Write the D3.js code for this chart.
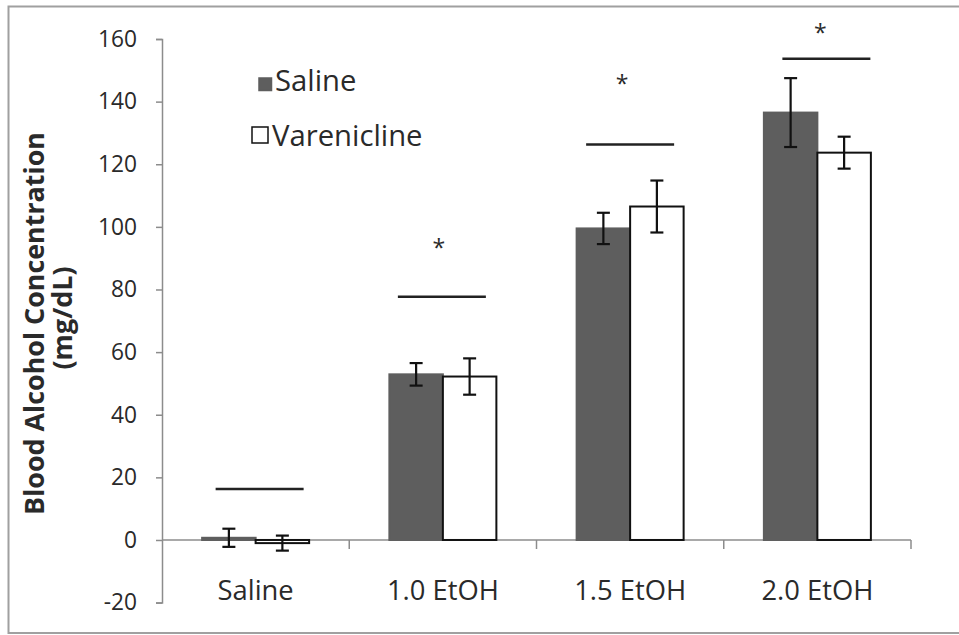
<!DOCTYPE html>
<html><head><meta charset="utf-8">
<script src="https://cdn.jsdelivr.net/npm/d3@7"></script>
<style>body{margin:0;background:#fff}svg{display:block}text{font-family:"Open Sans",Lato,sans-serif;fill:#2a2a2a}</style>
</head><body><svg id="c" width="959" height="635"></svg>
<script>
const categories = ["Saline", "1.0 EtOH", "1.5 EtOH", "2.0 EtOH"];
const seriesNames = ["Saline", "Varenicline"];
const salineMeans = [0.7, 52.9, 99.5, 136.5];
const salineErrors = [2.9, 3.6, 5.0, 11.0];
const vareniclineMeans = [-1.0, 52.2, 106.5, 123.7];
const vareniclineErrors = [2.4, 5.8, 8.3, 5.1];
const sigLineValues = [16.3, 77.7, 126.3, 153.7];
const sigMarks = ["", "*", "*", "*"];
const sigMarkValues = [null, 94.9, 147.2, 163.4];
const yTicks = [-20, 0, 20, 40, 60, 80, 100, 120, 140, 160];

const svg = d3.select("#c");
svg.append("rect").attr("x", 8.5).attr("y", 6.5).attr("width", 1000).attr("height", 626.5)
  .attr("fill", "none").attr("stroke", "#a0a0a0").attr("stroke-width", 2);

function fitSize(sel, target) {
  const n = sel.node();
  const fs = parseFloat(sel.attr("font-size"));
  const w = n.getComputedTextLength();
  return fs * target / w;
}

const x0 = d3.scaleBand().domain(categories).range([162, 911]).paddingInner(0).paddingOuter(0);
const y = d3.scaleLinear().domain([-20, 160]).range([602.6, 39]);
const bw = x0.bandwidth() / 3.5;
const x1 = d3.scaleBand().domain(seriesNames).range([0, 2 * bw]);
const sigShift = [4, -1, 0, 9];
const starShift = [0, -4, -8, 3];

// y axis
const yAxis = svg.append("g").attr("transform", "translate(162,0)")
  .call(d3.axisLeft(y).tickValues(yTicks).tickSize(6).tickPadding(19).tickFormat(d3.format("d")));
yAxis.select(".domain").attr("stroke", "#8c8c8c").attr("stroke-width", 1.5);
yAxis.selectAll(".tick line").attr("stroke", "#8c8c8c").attr("stroke-width", 1.5);
yAxis.selectAll(".tick text").attr("font-size", 20).attr("font-family", "'Open Sans', sans-serif").attr("fill", "#2a2a2a").text(d => d < 0 ? "-" + Math.abs(d) : d);
{
  const t160 = yAxis.selectAll(".tick text").filter(d => d === 160);
  const fs = fitSize(t160, 39);
  yAxis.selectAll(".tick text").attr("font-size", fs);
}

// x axis at zero
const xAxisG = svg.append("g").attr("transform", `translate(0,${y(0)})`);
xAxisG.append("line").attr("x1", 162).attr("x2", 911).attr("stroke", "#8c8c8c").attr("stroke-width", 1.5);
const boundaries = categories.map(c => x0(c) + x0.bandwidth());
xAxisG.selectAll("line.tk").data(boundaries).join("line").attr("class", "tk")
  .attr("x1", d => d).attr("x2", d => d).attr("y1", 0).attr("y2", 9)
  .attr("stroke", "#8c8c8c").attr("stroke-width", 1.5);
const catText = svg.selectAll("text.cat").data(categories).join("text").attr("class", "cat")
  .attr("x", d => x0(d) + x0.bandwidth() / 2).attr("y", 600)
  .attr("text-anchor", "middle").attr("font-size", 26).text(d => d);
{
  const fs = fitSize(catText.filter(d => d === "1.5 EtOH"), 112);
  catText.attr("font-size", fs);
}

// bars
const rows = categories.map((c, i) => ({c, vals: [
  {s: "Saline", v: salineMeans[i], e: salineErrors[i]},
  {s: "Varenicline", v: vareniclineMeans[i], e: vareniclineErrors[i]}]}));
const g = svg.selectAll("g.cg").data(rows).join("g").attr("class", "cg")
  .attr("transform", d => `translate(${x0(d.c) + x0.bandwidth() / 2 - bw},0)`);
g.selectAll("rect").data(d => d.vals).join("rect")
  .attr("x", d => x1(d.s)).attr("width", x1.bandwidth())
  .attr("y", d => Math.min(y(d.v), y(0))).attr("height", d => Math.abs(y(d.v) - y(0)))
  .attr("fill", d => d.s === "Saline" ? "#5e5e5e" : "#fff")
  .attr("stroke", d => d.s === "Saline" ? "#5e5e5e" : "#111").attr("stroke-width", 2);
const eb = g.selectAll("g.eb").data(d => d.vals).join("g").attr("class", "eb")
  .attr("transform", d => `translate(${x1(d.s) + x1.bandwidth() / 2},0)`);
eb.append("line").attr("y1", d => y(d.v + d.e)).attr("y2", d => y(d.v - d.e)).attr("stroke", "#111").attr("stroke-width", 2.2);
eb.append("line").attr("x1", -6.5).attr("x2", 6.5).attr("y1", d => y(d.v + d.e)).attr("y2", d => y(d.v + d.e)).attr("stroke", "#111").attr("stroke-width", 2.2);
eb.append("line").attr("x1", -6.5).attr("x2", 6.5).attr("y1", d => y(d.v - d.e)).attr("y2", d => y(d.v - d.e)).attr("stroke", "#111").attr("stroke-width", 2.2);

// significance lines
svg.selectAll("line.sig").data(categories).join("line").attr("class", "sig")
  .attr("x1", (d, i) => x0(d) + x0.bandwidth() / 2 + sigShift[i] - 44).attr("x2", (d, i) => x0(d) + x0.bandwidth() / 2 + sigShift[i] + 44)
  .attr("y1", (d, i) => y(sigLineValues[i])).attr("y2", (d, i) => y(sigLineValues[i]))
  .attr("stroke", "#222").attr("stroke-width", 2.6);
const starData = categories.map((c, i) => ({c, i})).filter(d => sigMarks[d.i]);
svg.selectAll("text.star").data(starData).join("text").attr("class", "star")
  .attr("x", d => x0(d.c) + x0.bandwidth() / 2 + starShift[d.i])
  .attr("y", d => y(sigMarkValues[d.i]) + 13)
  .attr("text-anchor", "middle").attr("font-size", 23).attr("fill", "#444").text(d => sigMarks[d.i]);

// legend
const leg = svg.append("g");
const legBox = [{x: 259, y: 78, s: 12.5}, {x: 252, y: 127, s: 16}];
const legText = [{x: 275, y: 91}, {x: 272, y: 146}];
const legTexts = [];
seriesNames.forEach((s, i) => {
  leg.append("rect").attr("x", legBox[i].x).attr("y", legBox[i].y).attr("width", legBox[i].s).attr("height", legBox[i].s)
    .attr("fill", i === 0 ? "#5e5e5e" : "#fff").attr("stroke", i === 0 ? "#5e5e5e" : "#111").attr("stroke-width", 1.5);
  legTexts.push(leg.append("text").attr("x", legText[i].x).attr("y", legText[i].y).attr("font-size", 26).text(s));
});
{
  const a = legTexts[0].node().getComputedTextLength() + legTexts[1].node().getComputedTextLength();
  const fs = 26 * (80 + 152) / a;
  legTexts.forEach(t => t.attr("font-size", fs));
}

// y title
const t1 = svg.append("text").attr("transform", "translate(44,323.5) rotate(-90)").attr("text-anchor", "middle")
  .attr("font-size", 24).attr("font-weight", "bold").text("Blood Alcohol Concentration");
const tfs = fitSize(t1, 383);
t1.attr("font-size", tfs);
svg.append("text").attr("transform", "translate(72,318) rotate(-90)").attr("text-anchor", "middle")
  .attr("font-size", tfs).attr("font-weight", "bold").text("(mg/dL)");
</script></body></html>
